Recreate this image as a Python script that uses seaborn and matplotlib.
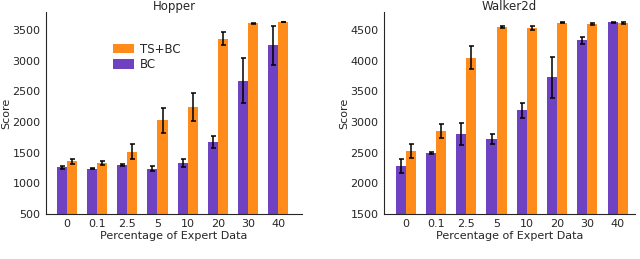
import pandas as pd
import matplotlib
matplotlib.use("Agg")
import matplotlib.pyplot as plt
import seaborn as sns

# Percentage of expert data (x categories)
percentages = ['0', '0.1', '2.5', '5', '10', '20', '30', '40']

# Hopper scores (mean and error)
hopper_bc = [1262, 1238, 1296, 1240, 1333, 1672, 2676, 3256]
hopper_bc_err = [28, 12, 15, 35, 60, 95, 365, 315]
hopper_tsbc = [1360, 1335, 1518, 2028, 2247, 3360, 3614, 3636]
hopper_tsbc_err = [40, 30, 120, 200, 225, 105, 12, 5]

# Walker2d scores (mean and error)
walker_bc = [2285, 2496, 2806, 2724, 3192, 3736, 4337, 4630]
walker_bc_err = [110, 10, 175, 85, 120, 335, 55, 6]
walker_tsbc = [2535, 2855, 4054, 4556, 4538, 4624, 4598, 4620]
walker_tsbc_err = [115, 120, 190, 15, 30, 5, 15, 10]

purple = '#6f42c1'
orange = '#ff8c1a'
fs = 8


def make_df(bc, bc_err, tsbc, tsbc_err):
    rows = []
    for p, m, e in zip(percentages, bc, bc_err):
        rows.append({'Percentage': p, 'Method': 'BC', 'Score': m, 'Err': e})
    for p, m, e in zip(percentages, tsbc, tsbc_err):
        rows.append({'Percentage': p, 'Method': 'TS+BC', 'Score': m, 'Err': e})
    return pd.DataFrame(rows)


def draw(ax, df, title, ylim, ticks, xlim, ylab_x):
    sns.barplot(data=df, x='Percentage', y='Score', hue='Method',
                hue_order=['BC', 'TS+BC'], order=percentages,
                palette={'BC': purple, 'TS+BC': orange},
                width=0.667, errorbar=None, ax=ax, saturation=1, linewidth=0)
    # error bars on top of each bar
    for cont, method in zip(ax.containers, ['BC', 'TS+BC']):
        sub = df[df['Method'] == method].set_index('Percentage').loc[percentages]
        xs = [b.get_x() + b.get_width() / 2 for b in cont]
        ax.errorbar(xs, sub['Score'], yerr=sub['Err'], fmt='none',
                    ecolor='black', elinewidth=1.1, capsize=1.8, capthick=1.1)
    ax.set_ylim(*ylim)
    ax.set_yticks(ticks)
    ax.set_xlim(*xlim)
    ax.set_title(title, fontsize=8.5, pad=1.5)
    ax.set_xlabel('Percentage of Expert Data', fontsize=fs)
    ax.set_ylabel('Score', fontsize=fs)
    ax.xaxis.set_label_coords(0.5, -0.085, transform=ax.transAxes)
    ax.yaxis.set_label_coords(ylab_x, 0.5, transform=ax.transAxes)
    ax.yaxis.label.set_va('center')
    ax.tick_params(labelsize=fs, length=2.5, pad=1.5)
    sns.despine(ax=ax)


sns.set_style('white')
plt.rcParams['font.family'] = ['DejaVu Sans']

fig = plt.figure(figsize=(6.4, 2.59), dpi=100)
ax1 = fig.add_axes([0.072, 0.174, 0.400, 0.78])
ax2 = fig.add_axes([0.600, 0.174, 0.392, 0.78])

draw(ax1, make_df(hopper_bc, hopper_bc_err, hopper_tsbc, hopper_tsbc_err),
     'Hopper', (500, 3800), [500, 1000, 1500, 2000, 2500, 3000, 3500], (-0.69, 7.79), -0.156)
draw(ax2, make_df(walker_bc, walker_bc_err, walker_tsbc, walker_tsbc_err),
     'Walker2d', (1500, 4800), [1500, 2000, 2500, 3000, 3500, 4000, 4500], (-0.72, 7.57), -0.16)

# legend: TS+BC above BC
h, l = ax1.get_legend_handles_labels()
ax1.legend(h[::-1], l[::-1], loc='upper left', bbox_to_anchor=(0.22, 0.9),
           frameon=False, fontsize=8.5, handlelength=1.8, handleheight=0.8,
           handletextpad=0.5, labelspacing=0.2)
ax2.get_legend().remove()

fig.savefig('out.png', dpi=100)
